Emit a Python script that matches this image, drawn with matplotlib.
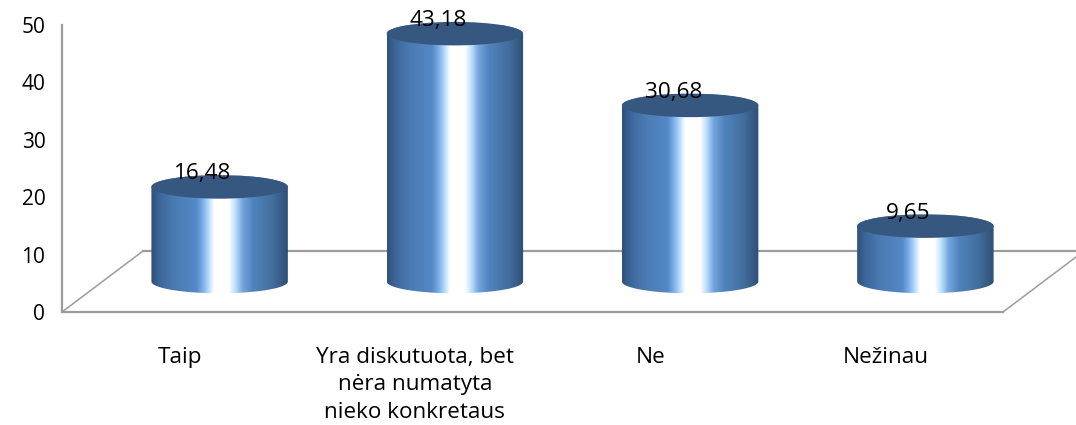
#!/usr/bin/env python3
"""3D-look cylinder column chart, drawn on a plain axes with a depth offset."""
import matplotlib
matplotlib.use("Agg")
import matplotlib.pyplot as plt
import numpy as np
from matplotlib.colors import LinearSegmentedColormap
from matplotlib.patches import Ellipse
from matplotlib.path import Path
from matplotlib.transforms import Affine2D, IdentityTransform

categories = ["Taip", "Yra diskutuota, bet\nnėra numatyta\nnieko konkretaus", "Ne", "Nežinau"]
values = [16.48, 43.18, 30.68, 9.65]
value_labels = ["16,48", "43,18", "30,68", "9,65"]
y_ticks = [0, 10, 20, 30, 40, 50]

W, H = 1076, 425
GREY = "#9c9c9c"
CAP = "#36577f"

plt.rcParams["font.family"] = ["Open Sans", "DejaVu Sans"]

fig = plt.figure(figsize=(W / 100, H / 100), dpi=100)
# front plane of the floor is the real axes
ax = fig.add_axes([62 / W, 1 - 312 / H, (1003 - 62) / W, (312 - 25) / H])

# depth offsets in pixels: floor back edge and the plane the cylinders stand on
floor_back = Affine2D().translate(81, 61)
bar_plane = Affine2D().translate(40, 30.5)
tr_back = ax.transData + floor_back
tr_bar = ax.transData + bar_plane

shade = LinearSegmentedColormap.from_list("cyl", [
    (0.00, "#2f5078"), (0.06, "#3d669a"), (0.17, "#4b7bb3"), (0.33, "#5488c6"),
    (0.38, "#7fb0ea"), (0.43, "#c4e4ff"), (0.46, "#ffffff"), (0.57, "#ffffff"),
    (0.62, "#b8dcfb"), (0.67, "#74a4dc"), (0.75, "#4f82bd"), (0.88, "#44709f"),
    (1.00, "#2f4f75"),
])
grad = np.linspace(0, 1, 256).reshape(1, -1)

bar_w = 0.58
cap_h = 4.1  # ellipse height, in value units

t = np.linspace(0, np.pi, 60)
for i, (val, lab) in enumerate(zip(values, value_labels)):
    ex = bar_w / 2 * np.cos(t)
    ey = cap_h / 2 * np.sin(t)
    # outline: lower half of the base ellipse, then upper edge at the top
    xs = np.r_[i - ex, i + ex]
    ys = np.r_[-ey, val + ey]
    verts = np.column_stack([xs, ys])
    path = Path(np.vstack([verts, verts[:1]]))
    im = ax.imshow(grad, cmap=shade, aspect="auto", interpolation="bilinear",
                   extent=[i - bar_w / 2, i + bar_w / 2, -cap_h, val + cap_h],
                   transform=tr_bar, zorder=3)
    im.set_clip_path(path, transform=tr_bar)
    ax.add_patch(Ellipse((i, val), bar_w, cap_h, facecolor=CAP, edgecolor="none",
                         transform=tr_bar, clip_on=False, zorder=4))
    ax.text(i, val, lab, fontsize=16.2, color="black", ha="center", va="center",
            transform=tr_bar + Affine2D().translate(-17, 13), zorder=5)

ax.set_xlim(-0.5, 3.5)
ax.set_ylim(0, 50)

# floor: back edge and the two slanted sides, behind the cylinders
ax.plot([-0.5, 3.5], [0, 0], color=GREY, lw=1.6, transform=tr_back, clip_on=False, zorder=1)
for x0 in (-0.5, 3.5):
    p0 = ax.transData.transform((x0, 0))
    ax.plot([p0[0], p0[0] + 81], [p0[1], p0[1] + 61], color=GREY, lw=1.1,
            transform=IdentityTransform(), clip_on=False, zorder=1)

ax.set_xlim(-0.5, 3.5)
ax.set_ylim(0, 50)
ax.set_yticks(y_ticks)
ax.set_xticks(range(len(categories)), categories, linespacing=1.42)
ax.tick_params(axis="both", length=0)
ax.tick_params(axis="y", pad=12, labelsize=15)
ax.tick_params(axis="x", pad=25, labelsize=16.2)
for side in ("top", "right"):
    ax.spines[side].set_visible(False)
for side in ("left", "bottom"):
    ax.spines[side].set_color(GREY)
    ax.spines[side].set_linewidth(1.6)
ax.patch.set_alpha(0)

fig.savefig("out.png", dpi=100)
